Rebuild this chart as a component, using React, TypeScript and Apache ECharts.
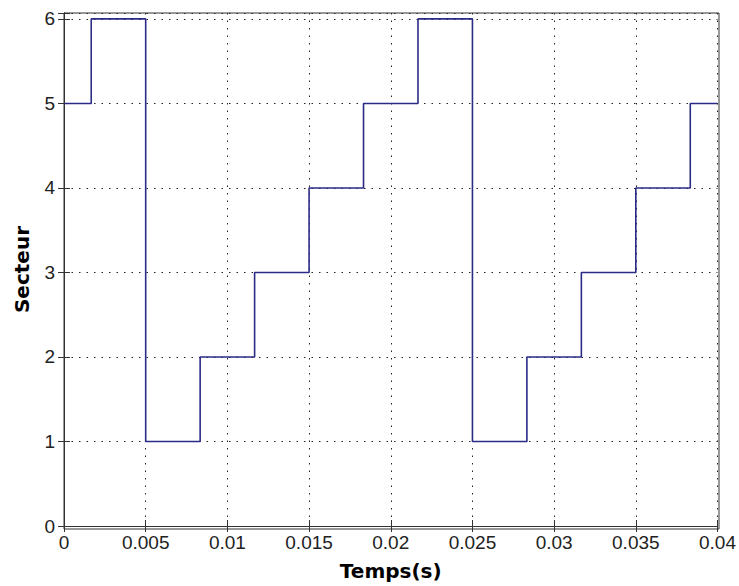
import React, { useEffect, useRef } from "react";
import * as echarts from "echarts";

// Breakpoint times (s) and sector value held from that time on
const times = [0, 0.0016667, 0.005, 0.0083333, 0.0116667, 0.015, 0.0183333, 0.0216667, 0.025, 0.0283333, 0.0316667, 0.035, 0.0383333, 0.04];
const sectors = [5, 6, 1, 2, 3, 4, 5, 6, 1, 2, 3, 4, 5, 5];
const xTicks = [0, 0.005, 0.01, 0.015, 0.02, 0.025, 0.03, 0.035, 0.04];
const yTicks = [0, 1, 2, 3, 4, 5, 6];

const FONT = "'Liberation Sans', Arial, sans-serif";
const TITLE_FONT = "'DejaVu Sans', 'Liberation Sans', sans-serif";

export default function App() {
  const ref = useRef<HTMLDivElement>(null);
  useEffect(() => {
    if (!ref.current) return;
    const chart = echarts.init(ref.current, null, { renderer: "svg" });
    const frame = { show: true, lineStyle: { color: "#333", width: 1 } };
    const grid = { show: true, lineStyle: { color: "#222", type: [1.5, 6] as any, width: 1 } };
    const tick = { show: true, inside: true, length: 6, lineStyle: { color: "#333" } };
    const xLabel = {
      color: "#222",
      fontFamily: FONT,
      fontSize: 19,
      margin: 7,
      formatter: (v: number) => {
        const m = xTicks.find((t) => Math.abs(t - v) < 1e-9);
        return m === undefined ? "" : String(m);
      },
    };
    const yLabel = {
      color: "#222",
      fontFamily: FONT,
      fontSize: 19,
      margin: 9,
      formatter: (v: number) => (yTicks.includes(v) ? String(v) : ""),
    };
    chart.setOption({
      animation: false,
      backgroundColor: "#fff",
      grid: { left: 64, right: 20, top: 13, bottom: 57, containLabel: false },
      graphic: [
        {
          type: "rect",
          z: 100,
          silent: true,
          shape: { x: 64, y: 13, width: 655, height: 516 },
          style: { fill: "none", stroke: "#333", lineWidth: 1 },
        },
      ],
      xAxis: [
        {
          type: "value",
          min: 0,
          max: 0.04,
          interval: 0.005,
          position: "bottom",
          axisLine: frame,
          axisTick: tick,
          splitLine: grid,
          axisLabel: xLabel,
          name: "Temps(s)",
          nameLocation: "middle",
          nameGap: 35,
          nameTextStyle: { fontFamily: TITLE_FONT, fontWeight: "bold", fontSize: 20, color: "#000" },
        },
        {
          type: "value",
          min: 0,
          max: 0.04,
          interval: 0.005,
          position: "top",
          axisLine: frame,
          axisTick: tick,
          splitLine: { show: false },
          axisLabel: { show: false },
        },
      ],
      yAxis: [
        {
          type: "value",
          min: 0,
          max: 6.07,
          interval: 1,
          position: "left",
          axisLine: frame,
          axisTick: tick,
          splitLine: grid,
          axisLabel: yLabel,
          name: "Secteur",
          nameLocation: "middle",
          nameGap: 32,
          nameRotate: 90,
          nameTextStyle: { fontFamily: TITLE_FONT, fontWeight: "bold", fontSize: 20, color: "#000" },
        },
        {
          type: "value",
          min: 0,
          max: 6.07,
          interval: 1,
          position: "right",
          axisLine: frame,
          axisTick: tick,
          splitLine: { show: false },
          axisLabel: { show: false },
        },
      ],
      series: [
        {
          type: "line",
          step: "end",
          data: times.map((t, i) => [t, sectors[i]]),
          showSymbol: false,
          lineStyle: { color: "#2b2b86", width: 1.6 },
          xAxisIndex: 0,
          yAxisIndex: 0,
        },
      ],
    });
    return () => chart.dispose();
  }, []);
  return <div ref={ref} style={{ width: 739, height: 586, position: "absolute", left: 0, top: 0 }} />;
}
